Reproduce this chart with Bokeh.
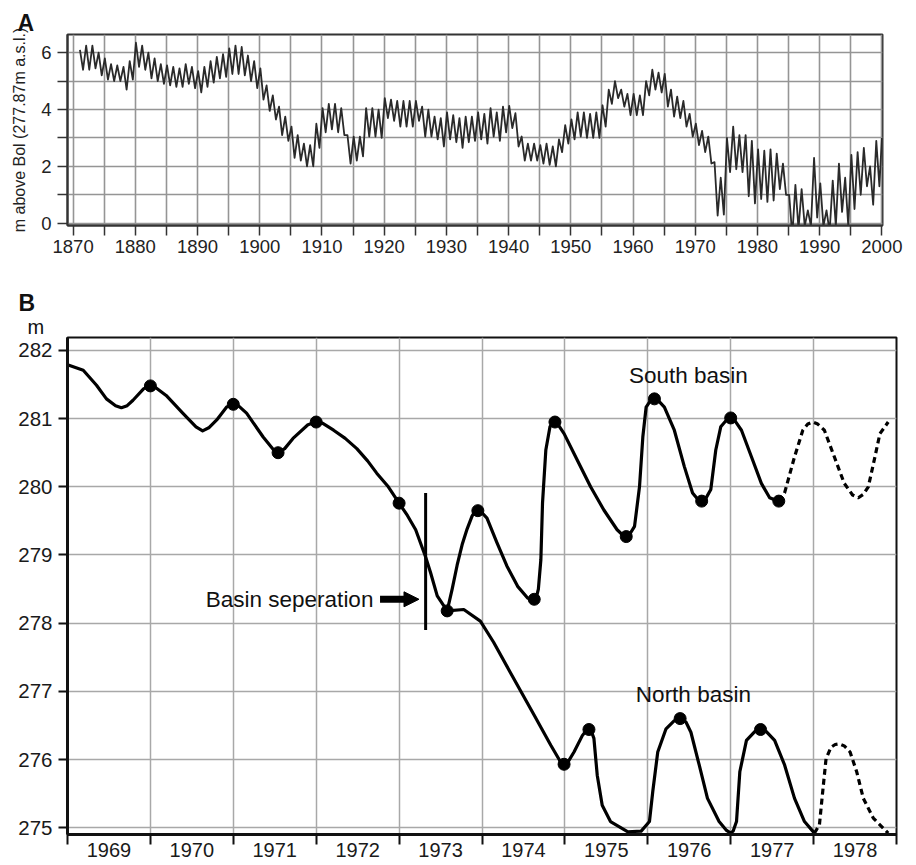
from bokeh.plotting import figure
from bokeh.layouts import column
from bokeh.models import FixedTicker, Title, Arrow, NormalHead, Label
from bokeh.embed import file_html
from bokeh.resources import INLINE

FONT = "Liberation Sans"

# ---------------- Panel A data: annual high / low (m above Bol) ----------------
a_years = list(range(1871, 2000))
a_peak = [6.1, 6.25, 6.25, 6.0, 5.8, 5.6, 5.55, 5.5, 5.7, 6.35,
          6.25, 6.0, 5.8, 5.6, 5.55, 5.5, 5.45, 5.6, 5.5, 5.35,
          5.5, 5.7, 5.85, 5.95, 6.15, 6.25, 6.2, 5.9, 5.7, 5.45,
          4.85, 4.5, 4.1, 3.75, 3.4, 3.1, 2.8, 2.75, 3.5, 4.05,
          4.2, 4.2, 4.05, 3.1, 3.05, 3.05, 4.05, 4.05, 4.0, 4.4,
          4.35, 4.3, 4.3, 4.3, 4.3, 4.1, 4.0, 3.75, 3.7, 3.9,
          3.8, 3.7, 3.75, 3.75, 3.9, 3.85, 4.05, 3.9, 4.1, 4.13,
          3.87, 3.05, 2.8, 2.8, 2.75, 2.8, 2.7, 2.95, 3.45, 3.65,
          3.9, 3.9, 3.85, 3.9, 4.15, 4.7, 5.0, 4.7, 4.55, 4.55,
          4.5, 5.0, 5.4, 5.3, 5.25, 4.7, 4.45, 4.3, 3.85, 3.5,
          3.25, 3.05, 2.15, 1.6, 3.0, 3.4, 3.1, 3.1, 2.9, 2.6,
          2.55, 2.6, 2.45, 2.1, 1.0, 1.35, 1.2, 0.45, 2.3, 1.4,
          0.45, 1.5, 2.1, 1.6, 2.4, 2.5, 2.65, 2.0, 2.9]
a_trough = [5.4, 5.4, 5.45, 5.2, 5.05, 5.0, 5.0, 4.7, 5.05, 5.5,
            5.4, 5.1, 5.0, 4.9, 4.85, 4.8, 4.8, 4.9, 4.75, 4.6,
            4.8, 4.95, 5.1, 5.15, 5.25, 5.25, 5.2, 5.0, 4.75, 4.35,
            3.95, 3.65, 3.1, 2.9, 2.3, 2.2, 2.0, 2.0, 2.65, 3.2,
            3.3, 3.2, 3.1, 2.1, 2.2, 2.35, 3.05, 3.05, 3.0, 3.7,
            3.6, 3.4, 3.4, 3.4, 3.6, 3.05, 3.05, 2.95, 2.7, 2.95,
            2.85, 2.65, 2.85, 2.9, 2.95, 2.8, 3.05, 2.9, 3.2, 3.35,
            2.7, 2.2, 2.2, 2.2, 2.1, 2.05, 2.0, 2.5, 2.8, 2.95,
            3.05, 3.0, 3.0, 3.0, 3.4, 4.2, 4.4, 4.1, 3.8, 3.8,
            3.8, 4.5, 4.7, 4.6, 4.1, 3.75, 3.7, 3.4, 3.05, 2.75,
            2.5, 2.1, 0.27, 0.3, 1.8, 1.9, 1.8, 0.95, 0.7, 0.85,
            0.75, 0.8, 1.2, 1.0, -0.45, -0.2, -0.1, -0.1, 0.2, -0.1,
            -0.3, -0.1, 0.4, -0.1, 0.5, 1.0, 1.3, 0.65, 1.3]
a_last_year = 2000
a_last_level = 3.0

a_xticks = list(range(1870, 2001, 5))
a_yticks = [0, 1, 2, 3, 4, 5, 6]

# ---------------- Panel B data: lake level (m a.s.l.) ----------------
b_main_year = [1969.0, 1969.19, 1969.35, 1969.47, 1969.58, 1969.65, 1969.72, 1969.79,
               1969.92, 1970.0, 1970.07, 1970.19, 1970.39, 1970.55, 1970.63, 1970.71,
               1970.80, 1970.92, 1971.0, 1971.07, 1971.16, 1971.36, 1971.48, 1971.54,
               1971.62, 1971.72, 1971.90, 1972.0, 1972.08, 1972.21, 1972.35, 1972.49,
               1972.62, 1972.73, 1972.87, 1973.0, 1973.10, 1973.20, 1973.32, 1973.38,
               1973.46, 1973.58]
b_main_level = [281.79, 281.71, 281.49, 281.29, 281.19, 281.16, 281.19, 281.27,
                281.44, 281.48, 281.45, 281.34, 281.08, 280.88, 280.82, 280.87,
                280.98, 281.17, 281.21, 281.18, 281.08, 280.73, 280.55, 280.50,
                280.56, 280.71, 280.91, 280.95, 280.93, 280.83, 280.71, 280.56,
                280.38, 280.20, 280.00, 279.76, 279.58, 279.37, 278.97, 278.74,
                278.40, 278.18]

b_south_year = [1973.58, 1973.64, 1973.70, 1973.76, 1973.82, 1973.88, 1973.91, 1973.95,
                1974.00, 1974.06, 1974.18, 1974.30, 1974.43, 1974.55, 1974.59, 1974.63,
                1974.66, 1974.68, 1974.71, 1974.73, 1974.77, 1974.82, 1974.85, 1974.88,
                1974.92, 1974.99, 1975.15, 1975.31, 1975.47, 1975.63, 1975.70, 1975.74,
                1975.78, 1975.84, 1975.90, 1975.94, 1975.98, 1976.03, 1976.08, 1976.13,
                1976.20, 1976.32, 1976.44, 1976.54, 1976.60, 1976.65, 1976.70, 1976.76,
                1976.82, 1976.88, 1976.95, 1977.0, 1977.05, 1977.13, 1977.25, 1977.37,
                1977.47, 1977.53, 1977.58]
b_south_level = [278.18, 278.50, 278.85, 279.15, 279.38, 279.57, 279.63, 279.65,
                 279.62, 279.54, 279.18, 278.84, 278.54, 278.37, 278.35, 278.35,
                 278.40, 278.50, 278.93, 279.76, 280.54, 280.88, 280.93, 280.95,
                 280.91, 280.78, 280.39, 280.00, 279.66, 279.37, 279.29, 279.27,
                 279.30, 279.42, 280.00, 280.73, 281.17, 281.26, 281.29, 281.26,
                 281.17, 280.83, 280.30, 279.91, 279.82, 279.79, 279.83, 279.96,
                 280.54, 280.88, 280.98, 281.01, 280.97, 280.83, 280.44, 280.05,
                 279.84, 279.81, 279.79]
b_south_fc_year = [1977.58, 1977.65, 1977.77, 1977.87, 1977.93, 1977.99, 1978.05, 1978.13,
                   1978.25, 1978.37, 1978.47, 1978.54, 1978.60, 1978.66, 1978.74, 1978.80,
                   1978.90]
b_south_fc_level = [279.79, 279.91, 280.44, 280.83, 280.92, 280.95, 280.92, 280.83,
                    280.44, 280.05, 279.88, 279.84, 279.89, 280.00, 280.44, 280.78,
                    280.95]

b_north_year = [1973.58, 1973.78, 1973.98, 1974.14, 1974.34, 1974.63, 1974.83, 1974.95,
                1974.99, 1975.04, 1975.11, 1975.21, 1975.26, 1975.29, 1975.32, 1975.35,
                1975.39, 1975.45, 1975.55, 1975.76, 1975.92, 1976.02, 1976.06, 1976.12,
                1976.22, 1976.32, 1976.39, 1976.46, 1976.52, 1976.62, 1976.72, 1976.86,
                1976.95, 1977.0, 1977.03, 1977.07, 1977.11, 1977.19, 1977.29, 1977.36,
                1977.43, 1977.53, 1977.65, 1977.77, 1977.89, 1978.01]
b_north_level = [278.18, 278.20, 278.03, 277.72, 277.28, 276.65, 276.21, 275.96,
                 275.93, 275.97, 276.11, 276.35, 276.43, 276.44, 276.41, 276.31,
                 275.77, 275.33, 275.09, 274.94, 274.95, 275.09, 275.53, 276.11,
                 276.45, 276.57, 276.60, 276.55, 276.40, 275.92, 275.43, 275.09,
                 274.96, 274.92, 274.95, 275.09, 275.82, 276.28, 276.41, 276.44,
                 276.41, 276.28, 275.92, 275.43, 275.09, 274.92]
b_north_fc_year = [1978.01, 1978.07, 1978.11, 1978.15, 1978.21, 1978.26, 1978.31, 1978.37,
                   1978.44, 1978.52, 1978.60, 1978.72, 1978.90]
b_north_fc_level = [274.92, 275.04, 275.53, 276.01, 276.18, 276.22, 276.23, 276.20,
                    276.11, 275.82, 275.43, 275.14, 274.92]

b_obs_year = [1970.0, 1971.0, 1971.54, 1972.0, 1973.0, 1973.58,
              1973.95, 1974.63, 1974.88, 1975.74, 1976.08, 1976.65, 1977.0, 1977.58,
              1974.99, 1975.29, 1976.39, 1977.36]
b_obs_level = [281.48, 281.21, 280.50, 280.95, 279.76, 278.18,
               279.65, 278.35, 280.95, 279.27, 281.29, 279.79, 281.01, 279.79,
               275.93, 276.44, 276.60, 276.44]

b_year_edges = list(range(1969, 1980))
b_year_labels = [str(y) for y in range(1969, 1979)]
b_yticks = [275, 276, 277, 278, 279, 280, 281, 282]

sep_year = 1973.32
sep_top = 279.91
sep_bottom = 277.90

# ---------------- Panel A ----------------
pa = figure(frame_width=815, frame_height=191, x_range=(1869.1, 2000.1), y_range=(-0.08, 6.64),
            output_backend="svg", toolbar_location=None, title="A",
            min_border_left=67, min_border_right=26, min_border_top=34, min_border_bottom=40)
pa.title.text_font = FONT
pa.title.text_font_size = "23px"
pa.title.text_font_style = "bold"
pa.title.text_color = "#111111"
pa.title.align = "left"
pa.title.offset = -50
pa.title.standoff = -2

ax, ay = [], []
for yr, hi, lo in zip(a_years, a_peak, a_trough):
    ax += [yr + 0.1, yr + 0.6]
    ay += [hi, lo]
ax.append(a_last_year)
ay.append(a_last_level)
pa.line(ax, ay, line_color="#2a2a2a", line_width=1.8, line_join="round")

pa.xaxis.ticker = FixedTicker(ticks=a_xticks)
pa.xaxis.major_label_overrides = {t: ("" if t % 10 else str(t)) for t in a_xticks}
pa.yaxis.ticker = FixedTicker(ticks=a_yticks)
pa.yaxis.major_label_overrides = {t: ("" if t % 2 else str(t)) for t in a_yticks}
pa.yaxis.axis_label = "m above Bol (277.87m a.s.l.)"
pa.yaxis.axis_label_text_font = FONT
pa.yaxis.axis_label_text_font_size = "16px"
pa.yaxis.axis_label_text_font_style = "normal"
pa.yaxis.axis_label_text_color = "#222222"
pa.yaxis.axis_label_standoff = 10
for axis in (pa.xaxis, pa.yaxis):
    axis.major_label_text_font = FONT
    axis.major_label_text_font_size = "18.5px"
    axis.major_label_text_color = "#222222"
    axis.major_tick_in = 0
    axis.major_tick_out = 10
    axis.minor_tick_line_color = None
    axis.major_tick_line_color = "#333333"
    axis.major_tick_line_width = 1.5
    axis.axis_line_color = "#333333"
    axis.axis_line_width = 2
pa.xaxis.major_label_standoff = 4
pa.yaxis.major_label_standoff = 6
pa.grid.grid_line_color = "#959595"
pa.grid.grid_line_width = 1.6
pa.outline_line_color = "#333333"
pa.outline_line_width = 2
pa.outline_line_alpha = 1

# ---------------- Panel B ----------------
pb = figure(frame_width=829, frame_height=497, x_range=(1969.0, 1979.0), y_range=(274.90, 282.19),
            output_backend="svg", toolbar_location=None, title="B",
            min_border_left=67, min_border_right=12, min_border_top=72, min_border_bottom=31)
pb.title.text_font = FONT
pb.title.text_font_size = "23px"
pb.title.text_font_style = "bold"
pb.title.text_color = "#111111"
pb.title.align = "left"
pb.title.offset = -49
pb.title.standoff = -4
unit_title = Title(text="m", align="left", offset=-40, standoff=0,
                   text_font=FONT, text_font_size="20px", text_font_style="normal",
                   text_color="#111111")
pb.add_layout(unit_title, "above")

mids = [y + 0.5 for y in b_year_edges[:-1]]
pb.xaxis.ticker = FixedTicker(ticks=mids, minor_ticks=b_year_edges)
pb.xaxis.major_label_overrides = {m: lab for m, lab in zip(mids, b_year_labels)}
pb.xaxis.major_tick_line_color = None
pb.xaxis.major_tick_out = 0
pb.xaxis.major_tick_in = 0
pb.xaxis.minor_tick_out = 10
pb.xaxis.minor_tick_in = 0
pb.xaxis.minor_tick_line_color = "#111111"
pb.xaxis.minor_tick_line_width = 2
pb.xaxis.major_label_standoff = -2
pb.xaxis.major_label_text_font_size = "20px"
pb.xgrid.ticker = FixedTicker(ticks=b_year_edges)

pb.yaxis.ticker = FixedTicker(ticks=b_yticks)
pb.yaxis.major_tick_out = 9
pb.yaxis.major_tick_in = 0
pb.yaxis.major_tick_line_width = 2
pb.yaxis.major_tick_line_color = "#111111"
pb.yaxis.minor_tick_line_color = None
pb.yaxis.major_label_standoff = 6
pb.yaxis.major_label_text_font_size = "20.5px"
for axis in (pb.xaxis, pb.yaxis):
    axis.major_label_text_font = FONT
    axis.major_label_text_color = "#1a1a1a"
    axis.axis_line_color = "#111111"
    axis.axis_line_width = 3
pb.grid.grid_line_color = "#a8a8a8"
pb.grid.grid_line_width = 1.5
pb.outline_line_color = "#111111"
pb.outline_line_width = 2
pb.outline_line_alpha = 1

LW = 3.2
for xs, ys in [(b_main_year, b_main_level), (b_south_year, b_south_level),
               (b_north_year, b_north_level)]:
    pb.line(xs, ys, line_color="black", line_width=LW, line_join="round")
for xs, ys in [(b_south_fc_year, b_south_fc_level), (b_north_fc_year, b_north_fc_level)]:
    pb.line(xs, ys, line_color="black", line_width=LW, line_dash="6 4", line_join="round")
pb.scatter(b_obs_year, b_obs_level, size=12, color="black")

pb.segment(x0=[sep_year], y0=[sep_bottom], x1=[sep_year], y1=[sep_top],
           line_color="black", line_width=3)
pb.add_layout(Arrow(end=NormalHead(size=15, fill_color="black", line_color="black"),
                    x_start=1972.77, y_start=278.35, x_end=1973.24, y_end=278.35,
                    line_color="black", line_width=7))

for txt, x, y, align in [("Basin seperation", 1972.69, 278.35, "right"),
                         ("South basin", 1976.49, 281.63, "center"),
                         ("North basin", 1976.55, 276.96, "center")]:
    pb.add_layout(Label(x=x, y=y, text=txt, text_align=align, text_baseline="middle",
                        text_font=FONT, text_font_size="22.5px", text_color="#111111"))

layout = column(pa, pb, spacing=0)
open("out.html", "w").write(file_html(layout, INLINE))
